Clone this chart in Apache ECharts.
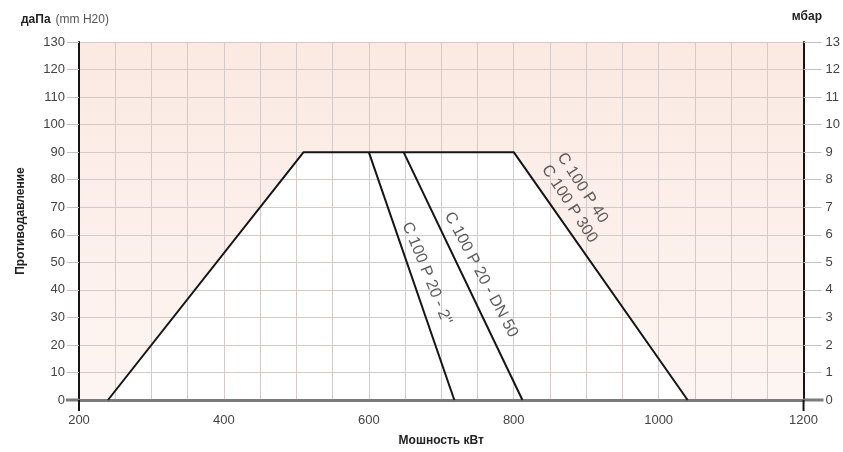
<!DOCTYPE html>
<html><head><meta charset="utf-8">
<script src="https://cdn.jsdelivr.net/npm/echarts@6/dist/echarts.min.js"></script>
<style>html,body{margin:0;padding:0;background:#fff}#c{width:843px;height:452px}</style>
</head><body><div id="c"></div>
<script>
// Envelope (outer trapezoid) of the working field
const envelopeX = [240, 510, 800, 1040];
const envelopeY = [0, 90, 90, 0];
// Inner limit lines
const line2inX = [600, 718];
const line2inY = [90, 0];
const lineDN50X = [648, 812];
const lineDN50Y = [90, 0];
// Curve labels
const labelTexts = ['C 100 P 20 - 2"', 'C 100 P 20 - DN 50', 'C 100 P 40', 'C 100 P 300'];
const labelX = [680, 755, 895, 877];
const labelY = [46, 45.5, 77, 71.2];
const labelAngle = [-68, -62, -57, -57];
// Axis
const xTicks = [200, 400, 600, 800, 1000, 1200];
const leftTicks = [0,10,20,30,40,50,60,70,80,90,100,110,120,130];
const rightTicks = [0,1,2,3,4,5,6,7,8,9,10,11,12,13];

const zip = (a, b) => a.map((v, i) => [v, b[i]]);
const FONT = 'Liberation Sans, Arial, sans-serif';
const chart = echarts.init(document.getElementById('c'));
const lineStyle = { color: '#151515', width: 2 };

chart.setOption({
  animation: false,
  textStyle: { fontFamily: FONT },
  title: [
    { left: 16, top: 6, text: '{b|даПа} {n|(mm H20)}',
      textStyle: { fontWeight: 'normal', rich: { b: { fontWeight: 'bold', fontSize: 12, color: '#222', fontFamily: FONT },
                           n: { fontWeight: 'normal', fontSize: 12, color: '#555', fontFamily: FONT } } } },
    { right: 16, top: 6, text: 'мбар', textStyle: { fontWeight: 'bold', fontSize: 12, color: '#222', fontFamily: FONT } }
  ],
  grid: { left: 79, right: 39, top: 42, bottom: 45, show: true, borderWidth: 0, z: 0,
    backgroundColor: new echarts.graphic.LinearGradient(0, 0, 0, 1, [
      { offset: 0, color: '#fbe9e2' }, { offset: 1, color: '#fdf5f2' }]) },
  xAxis: {
    type: 'value', min: xTicks[0], max: xTicks[xTicks.length - 1], interval: 50, z: 2,
    name: 'Мошность кВт', nameLocation: 'middle', nameGap: 35,
    nameTextStyle: { fontWeight: 'bold', fontSize: 12, color: '#222' },
    axisLine: { show: true, lineStyle: { color: '#7a7a7a', width: 3 } },
    axisTick: { show: false },
    axisLabel: { margin: 14, fontSize: 13, color: '#444',
      formatter: v => (xTicks.indexOf(v) >= 0 ? String(v) : '') },
    splitLine: { show: true, lineStyle: { color: '#d4caca', width: 1 } }
  },
  yAxis: [
    { type: 'value', min: 0, max: 130, interval: 10, position: 'left', z: 2,
      name: 'Противодавление', nameLocation: 'middle', nameGap: 52, nameRotate: 90,
      nameTextStyle: { fontWeight: 'bold', fontSize: 12, color: '#222' },
      axisLine: { show: true, lineStyle: { color: '#151515', width: 2 } },
      axisTick: { show: true, length: 12, lineStyle: { color: '#c8c0c0', width: 1 } },
      axisLabel: { margin: 14, fontSize: 13, color: '#444',
        formatter: v => (leftTicks.indexOf(v) >= 0 ? String(v) : '') },
      splitLine: { show: true, lineStyle: { color: '#d4caca', width: 1 } } },
    { type: 'value', min: 0, max: 13, interval: 1, position: 'right', z: 2,
      axisLine: { show: true, lineStyle: { color: '#151515', width: 2 } },
      axisTick: { show: true, length: 18, lineStyle: { color: '#c8c0c0', width: 1 } },
      axisLabel: { margin: 22, fontSize: 13, color: '#444',
        formatter: v => (rightTicks.indexOf(v) >= 0 ? String(v) : '') },
      splitLine: { show: false } }
  ],
  series: [
    { type: 'line', z: 1, data: zip(envelopeX, envelopeY), symbol: 'none', silent: true,
      lineStyle: { width: 0 }, areaStyle: { color: '#ffffff', opacity: 1 } },
    { type: 'line', z: 3, data: zip(envelopeX, envelopeY), symbol: 'none', lineStyle },
    { type: 'line', z: 3, data: zip(line2inX, line2inY), symbol: 'none', lineStyle },
    { type: 'line', z: 3, data: zip(lineDN50X, lineDN50Y), symbol: 'none', lineStyle },
    ...labelTexts.map((t, i) => ({
      type: 'scatter', z: 4, symbolSize: 0, silent: true,
      data: [[labelX[i], labelY[i]]],
      label: { show: true, position: 'inside', formatter: t, rotate: labelAngle[i],
        fontSize: 16, color: '#333', fontFamily: FONT }
    }))
  ]
});

// extend the two vertical axes slightly below the x axis, and the x axis past them
const p0 = chart.convertToPixel({ xAxisIndex: 0, yAxisIndex: 0 }, [xTicks[0], 0]);
const p1 = chart.convertToPixel({ xAxisIndex: 0, yAxisIndex: 0 }, [xTicks[xTicks.length - 1], 0]);
chart.setOption({
  graphic: [
    { type: 'line', shape: { x1: p0[0] - 13, y1: p0[1], x2: p0[0], y2: p0[1] }, style: { stroke: '#7a7a7a', lineWidth: 3 }, z: 5 },
    { type: 'line', shape: { x1: p1[0], y1: p1[1], x2: p1[0] + 20, y2: p1[1] }, style: { stroke: '#7a7a7a', lineWidth: 3 }, z: 5 },
    { type: 'line', shape: { x1: p0[0], y1: p0[1], x2: p0[0], y2: p0[1] + 11 }, style: { stroke: '#151515', lineWidth: 2 }, z: 5 },
    { type: 'line', shape: { x1: p1[0], y1: p1[1], x2: p1[0], y2: p1[1] + 11 }, style: { stroke: '#151515', lineWidth: 2 }, z: 5 }
  ]
});
</script></body></html>
